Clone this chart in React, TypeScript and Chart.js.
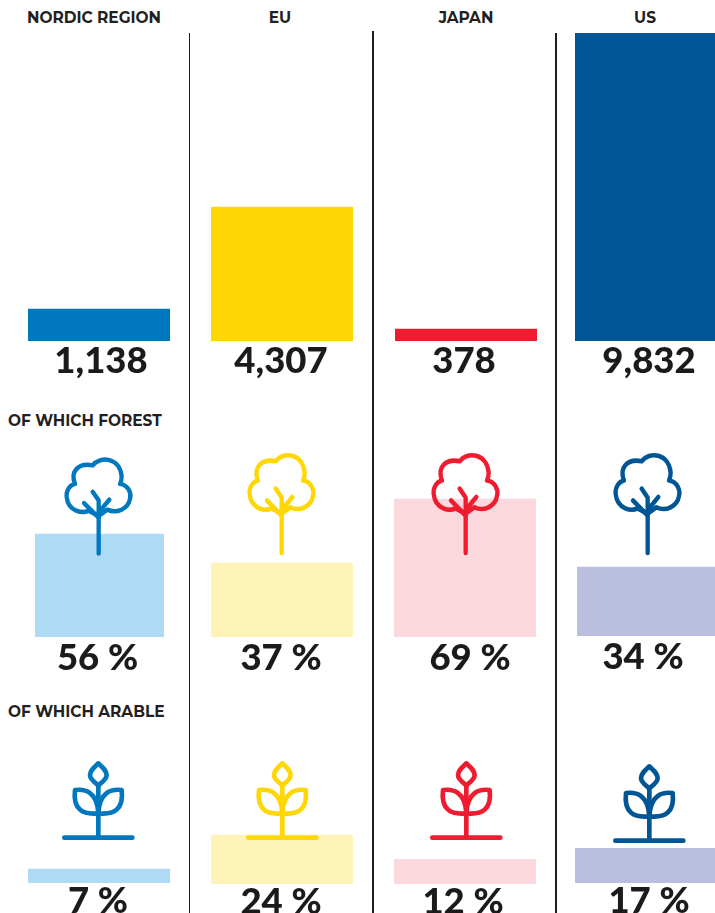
import React, { useEffect, useRef } from "react";
import Chart from "chart.js/auto";

const regions = ["NORDIC REGION", "EU", "JAPAN", "US"];
const landArea = [1138, 4307, 378, 9832];
const forestShare = [56, 37, 69, 34];
const arableShare = [7, 24, 12, 17];
const landLabels = ["1,138", "4,307", "378", "9,832"];
const forestLabels = ["56 %", "37 %", "69 %", "34 %"];
const arableLabels = ["7 %", "24 %", "12 %", "17 %"];
const strongColors = ["#0078BF", "#FFD705", "#EE1C2E", "#005695"];
const paleColors = ["#ADDAF4", "#FEF4B8", "#FBD8DD", "#BBBFDF"];

const FONT = "Lato, sans-serif";
const HEAD = "Montserrat, Inter, sans-serif";
const INK = "#231F20";

type CellProps = {
  label: string; value: number; color: string; max: number;
  left: number; width: number; top: number; plot: number; foot: number;
  shift: number; pad: number; size: number;
};

function Cell({ label, value, color, max, left, width, top, plot, foot, shift, pad, size }: CellProps) {
  const ref = useRef<HTMLCanvasElement>(null);
  useEffect(() => {
    const chart = new Chart(ref.current!, {
      type: "bar",
      data: {
        labels: [label],
        datasets: [{ data: [value], backgroundColor: color, borderWidth: 0, barPercentage: 1, categoryPercentage: 1 }],
      },
      options: {
        animation: false,
        responsive: false,
        devicePixelRatio: 1,
        layout: { padding: 0 },
        plugins: { legend: { display: false }, tooltip: { enabled: false } },
        scales: {
          y: { display: false, min: 0, max },
          x: {
            grid: { display: false, drawTicks: false },
            border: { display: false },
            afterFit: (s: any) => { s.height = foot; },
            ticks: {
              color: "#1c1a1b", padding: pad, labelOffset: shift, maxRotation: 0, autoSkip: false,
              font: { family: FONT, size, weight: 900 },
            },
          },
        },
      },
    });
    return () => chart.destroy();
  }, []);
  return (
    <canvas ref={ref} width={width} height={plot + foot}
      style={{ position: "absolute", left, top, width, height: plot + foot, display: "block" }} />
  );
}

function Tree({ stem, color, tall }: { stem: number; color: string; tall: number }) {
  const h = 125 * tall;
  return (
    <svg width={160} height={h} viewBox="0 0 480 375" preserveAspectRatio="none"
      style={{ position: "absolute", left: stem - 78.7, top: 555.5 - (332 / 375) * h }}>
      <g fill="none" stroke={color} strokeWidth={13} strokeLinecap="round" strokeLinejoin="round">
        <path d="M205 200 C190 208 145 205 140 160 C138 140 150 125 165 122 C150 85 175 60 218 68 C240 40 300 45 305 100 C305 108 303 116 300 122 C325 125 335 150 330 165 C325 195 290 210 262 197 L236 215 L205 200" />
        <path d="M236 325 L236 170 L218 145" />
        <path d="M192 178 L236 220" />
        <path d="M268 168 L236 205" />
      </g>
    </svg>
  );
}

function Plant({ stem, color, top }: { stem: number; color: string; top: number }) {
  return (
    <svg width={160} height={110} viewBox="0 0 480 330"
      style={{ position: "absolute", left: stem - 78.3, top }}>
      <g fill="none" stroke={color} strokeWidth={14} strokeLinecap="round" strokeLinejoin="round">
        <path d="M235 40 C222 52 210 62 210 75 C210 88 225 98 235 106 C245 98 260 88 260 75 C260 62 248 52 235 40 Z" />
        <path d="M165 120 C195 116 232 125 235 190 C190 195 158 180 165 120 Z" />
        <path d="M305 120 C275 116 238 125 235 190 C280 195 312 180 305 120 Z" />
        <path d="M235 106 L235 263" />
        <path d="M133 263 L337 263" />
      </g>
    </svg>
  );
}

function Head({ text, center, y }: { text: string; center: number; y: number }) {
  return (
    <div style={{ position: "absolute", left: center - 100, width: 200, top: y, textAlign: "center", font: `700 15.4px ${HEAD}`, color: INK, lineHeight: "18px" }}>{text}</div>
  );
}

function RowHead({ text, y }: { text: string; y: number }) {
  return (
    <div style={{ position: "absolute", left: 8, top: y, font: `700 15.4px ${HEAD}`, color: INK, lineHeight: "18px", whiteSpace: "nowrap" }}>{text}</div>
  );
}

function Rule({ x, top }: { x: number; top: number }) {
  return <div style={{ position: "absolute", left: x, top, width: 1.5, height: 913 - top, background: "#1f1d1e" }} />;
}

export default function App() {
  useEffect(() => { document.body.style.margin = "0"; }, []);
  const row1 = [[28, 142, 10953, 2], [211, 142, 9900, -1], [395, 142, 9832, -2], [575, 140, 9832, 4]];
  const row2 = [[35, 129, 108.7, -2, 637], [211, 142, 100, -1, 637], [394, 142, 100, 5, 637], [577, 138, 98.5, -3, 636]];
  const row3 = [[28, 142, 50, -1, 883], [211, 142, 49, -1, 884], [394, 142, 48.5, -2, 884], [575, 140, 49, 4, 883]];
  return (
    <div style={{ position: "relative", width: 715, height: 913, overflow: "hidden", background: "#fff" }}>
      {regions.map((r, i) => <Head key={r} text={r} center={[94, 280, 466, 645][i]} y={9} />)}
      <RowHead text="OF WHICH FOREST" y={412} />
      <RowHead text="OF WHICH ARABLE" y={703} />
      <Rule x={188.6} top={33} /><Rule x={372} top={31} /><Rule x={555} top={33} />
      {regions.map((r, i) => (
        <Cell key={"a" + r} label={landLabels[i]} value={landArea[i]} color={strongColors[i]} max={row1[i][2]}
          left={row1[i][0]} width={row1[i][1]} top={33} plot={308} foot={44} shift={row1[i][3]} pad={-2} size={36.5} />
      ))}
      {regions.map((r, i) => (
        <Cell key={"b" + r} label={forestLabels[i]} value={forestShare[i]} color={paleColors[i]} max={row2[i][2]}
          left={row2[i][0]} width={row2[i][1]} top={row2[i][4] - 200} plot={200} foot={43} shift={row2[i][3]} pad={-1} size={36.5} />
      ))}
      {regions.map((r, i) => (
        <Cell key={"c" + r} label={arableLabels[i]} value={arableShare[i]} color={paleColors[i]} max={row3[i][2]}
          left={row3[i][0]} width={row3[i][1]} top={row3[i][4] - 100} plot={100} foot={913 - row3[i][4]} shift={row3[i][3]} pad={-4} size={36.5} />
      ))}
      {[[98.7, 1.03], [282, 1.07], [466, 1.07], [648, 1.07]].map(([s, t], i) => <Tree key={i} stem={s} color={strongColors[i]} tall={t} />)}
      {[[98.3, 750], [282, 750], [466, 750], [649, 753]].map(([s, t], i) => <Plant key={i} stem={s} color={strongColors[i]} top={t} />)}
    </div>
  );
}
